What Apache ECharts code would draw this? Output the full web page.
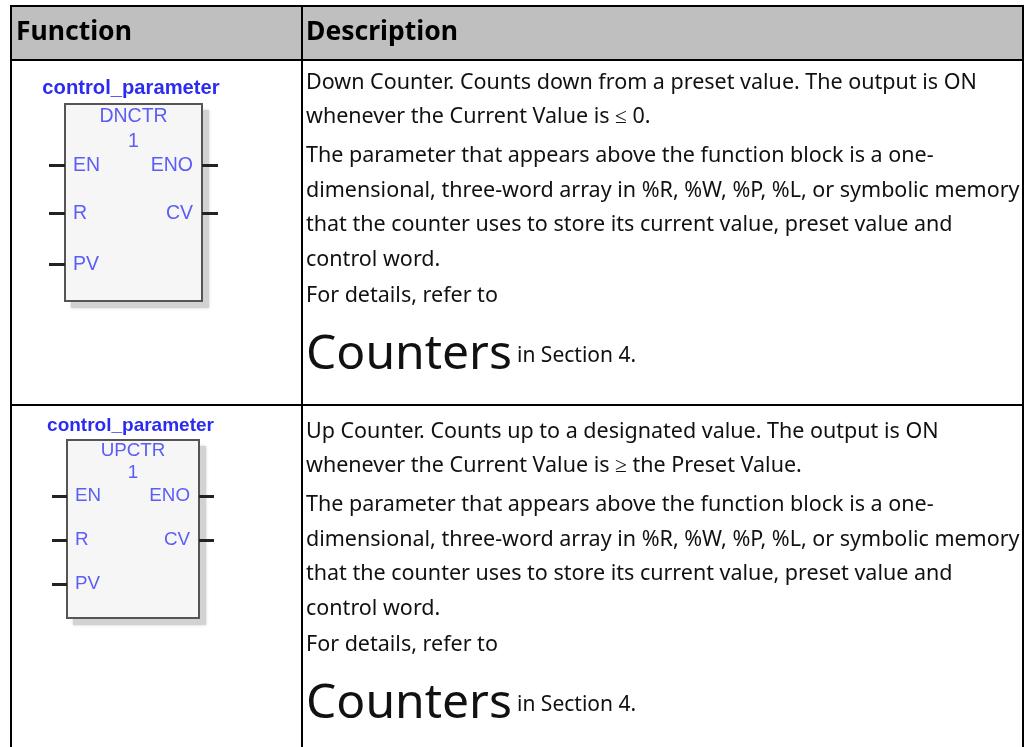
<!DOCTYPE html>
<html>
<head>
<meta charset="utf-8">
<script src="https://cdn.jsdelivr.net/npm/echarts@6/dist/echarts.min.js"></script>
<style>
html,body{margin:0;padding:0;background:#fff;}
#main{width:1031px;height:747px;}
</style>
</head>
<body>
<div id="main"></div>
<script>
/************************ table text *******************************/
var headers = ['Function', 'Description'];
var downLines = [
    'Down Counter. Counts down from a preset value. The output is ON',
    'whenever the Current Value is \u2264 0.',
    'The parameter that appears above the function block is a one-',
    'dimensional, three-word array in %R, %W, %P, %L, or symbolic memory',
    'that the counter uses to store its current value, preset value and',
    'control word.',
    'For details, refer to'
];
var upLines = [
    'Up Counter. Counts up to a designated value. The output is ON',
    'whenever the Current Value is \u2265 the Preset Value.',
    'The parameter that appears above the function block is a one-',
    'dimensional, three-word array in %R, %W, %P, %L, or symbolic memory',
    'that the counter uses to store its current value, preset value and',
    'control word.',
    'For details, refer to'
];
var linkWord = 'Counters';
var linkTail = 'in Section 4.';
var blockParam = 'control_parameter';
var blockNames = ['DNCTR', 'UPCTR'];
var blockCount = '1';
var leftPins = ['EN', 'R', 'PV'];
var rightPins = ['ENO', 'CV'];

/************************ layout *******************************/
var textFont = '"Noto Sans"';
var blockFont = '"Liberation Sans"';
var lineOffsets = [83, 117, 156, 191, 225, 260, 296];
var downBox = {x: 65, y: 104, w: 137, h: 197, pin: 16, nameY: 116, countY: 141, paramY: 88, paramX: 131, paramSize: 20.2, size: 19.5, labelDy: 1, pinY: [165, 213, 264]};
var upBox = {x: 67, y: 440, w: 132, h: 178, pin: 15, nameY: 451, countY: 473, paramY: 426, paramX: 130.5, paramSize: 19, size: 18.8, labelDy: 0, pinY: [496, 540, 584]};

var els = [];

function addRect(x, y, w, h, fill){
    els.push({type: 'rect', shape: {x: x, y: y, width: w, height: h}, style: {fill: fill}});
}

function addText(str, x, y, size, opt){
    opt = opt || {};
    els.push({type: 'text', x: x, y: y, style: {
        text: str,
        fill: opt.fill || '#111',
        font: (opt.weight || 'normal') + ' ' + size + 'px ' + (opt.font || textFont),
        textAlign: opt.align || 'left',
        textVerticalAlign: 'middle',
        shadowBlur: opt.blur || 0,
        shadowColor: opt.blur ? (opt.fill || '#111') : 'transparent'
    }});
}

function addBlock(box, name){
    var blue = '#5c5cf6';
    var cx = box.x + box.w / 2;
    // soft drop shadow, then the box itself
    els.push({type: 'rect', shape: {x: box.x + 6, y: box.y + 6, width: box.w + 1, height: box.h + 1},
        style: {fill: '#d2d2d2', shadowBlur: 3, shadowColor: '#d2d2d2'}});
    els.push({type: 'rect', shape: {x: box.x, y: box.y, width: box.w, height: box.h},
        style: {fill: '#f6f6f6', stroke: '#555', lineWidth: 2}});
    leftPins.forEach(function(label, i){
        addRect(box.x - box.pin, box.pinY[i] - 1, box.pin, 3, '#222');
        addText(label, box.x + 8, box.pinY[i] + box.labelDy, box.size, {fill: blue, font: blockFont, blur: 1});
    });
    rightPins.forEach(function(label, i){
        addRect(box.x + box.w, box.pinY[i] - 1, box.pin, 3, '#222');
        addText(label, box.x + box.w - 9, box.pinY[i] + box.labelDy, box.size, {fill: blue, font: blockFont, align: 'right', blur: 1});
    });
    addText(blockParam, box.paramX, box.paramY, box.paramSize, {fill: '#2c2cf0', font: blockFont, weight: 'bold', align: 'center', blur: 1});
    addText(name, cx, box.nameY + box.labelDy, box.size, {fill: blue, font: blockFont, align: 'center', blur: 1});
    addText(blockCount, cx, box.countY + box.labelDy, box.size, {fill: blue, font: blockFont, align: 'center', blur: 1});
}

function addDescription(lines, shift){
    lines.forEach(function(line, i){
        addText(line, 306, lineOffsets[i] + shift, 21.5);
    });
    addText(linkWord, 306, 355 + shift, 48);
    addText(linkTail, 517, 356 + shift, 21);
}

// header band and grid lines
addRect(11, 6, 1012, 54, '#bfbfbf');
addRect(10, 5, 2, 742, '#000');
addRect(1022, 5, 2, 742, '#000');
addRect(301, 5, 2, 742, '#000');
addRect(10, 5, 1014, 2, '#000');
addRect(10, 59, 1014, 2, '#000');
addRect(10, 404, 1014, 2, '#000');

addText(headers[0], 16, 32, 26.5, {weight: 'bold', fill: '#000'});
addText(headers[1], 306, 32, 26.5, {weight: 'bold', fill: '#000'});

addBlock(downBox, blockNames[0]);
addBlock(upBox, blockNames[1]);
addDescription(downLines, 0);
addDescription(upLines, 349);

var chart = echarts.init(document.getElementById('main'));
chart.setOption({
    backgroundColor: '#fff',
    animation: false,
    graphic: {elements: els}
});
</script>
</body>
</html>
